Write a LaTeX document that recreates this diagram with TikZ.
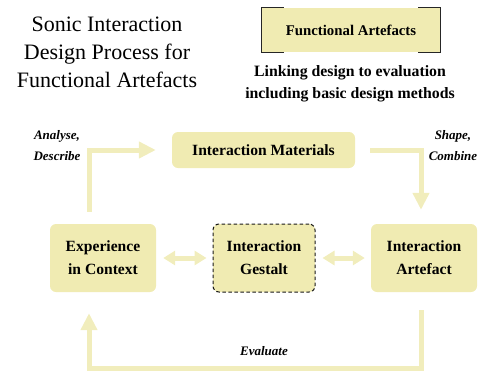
\documentclass[tikz,border=0pt]{standalone}
\usepackage{fontspec}
\setmainfont{Liberation Serif}
\usetikzlibrary{arrows.meta}
\definecolor{boxc}{HTML}{F0EBB2}
\definecolor{arrc}{HTML}{F1EDBC}
\begin{document}
\begin{tikzpicture}[x=1pt,y=-1pt,
 box/.style={fill=boxc, rounded corners=6pt, font=\bfseries\fontsize{15.6}{23}\selectfont, align=center, inner sep=0pt},
 flow/.style={draw=arrc, line width=5pt, -{Triangle[width=16pt,length=17pt]}},
 dbl/.style={draw=arrc, line width=5pt, {Triangle[width=14pt,length=12pt]}-{Triangle[width=14pt,length=12pt]}},
 lab/.style={font=\bfseries\itshape\fontsize{13}{21}\selectfont, align=center},
 frame/.style={draw=black!85, line width=0.8pt}]
\useasboundingbox (0,0) rectangle (478,372);
% title
\node[font=\fontsize{22}{28}\selectfont, align=center] (title) at (107,52) {Sonic Interaction\\Design Process for\\Functional Artefacts};
% legend box
\node[fill=boxc, minimum width=178pt, minimum height=44pt, inner sep=0pt, font=\bfseries\fontsize{14.8}{16}\selectfont] (fa) at (351,30) {Functional Artefacts};
\draw[frame] ([xshift=22pt]fa.north west) -- (fa.north west) -- (fa.south west) -- ([xshift=22pt]fa.south west);
\draw[frame] ([xshift=-22pt]fa.north east) -- (fa.north east) -- (fa.south east) -- ([xshift=-22pt]fa.south east);
\node[font=\bfseries\fontsize{15.8}{22}\selectfont, align=center] (sub) at (350,84) {Linking design to evaluation\\including basic design methods};
% boxes
\node[box, minimum width=183pt, minimum height=36pt] (mat) at (263.5,150) {Interaction Materials};
\node[box, minimum width=106pt, minimum height=68pt] (exp) at (103,258) {Experience\\in Context};
\node[box, minimum width=102pt, minimum height=68pt, draw=black!90, line width=1pt, dash pattern=on 3.5pt off 2.5pt] (gest) at (264,258) {Interaction\\Gestalt};
\node[box, minimum width=106pt, minimum height=68pt] (art) at (424,258) {Interaction\\Artefact};
% arrows
\draw[flow] ([xshift=-14pt,yshift=12pt]exp.north) |- ([xshift=-16pt]mat.west);
\draw[flow] ([xshift=15pt]mat.east) -| ([xshift=-3pt,yshift=14pt]art.north);
\draw[flow] ([xshift=-3pt,yshift=-18pt]art.south) -- ++(0,58) -| ([xshift=-14pt,yshift=-21pt]exp.south);
\draw[dbl] ([xshift=7pt]exp.east) -- ([xshift=-6pt]gest.west);
\draw[dbl] ([xshift=7pt]gest.east) -- ([xshift=-6pt]art.west);
% labels
\node[lab] (l1) at (57,146) {Analyse,\\Describe};
\node[lab] (l2) at (453,146) {Shape,\\Combine};
\node[lab] (l3) at (264,351) {Evaluate};
\end{tikzpicture}
\end{document}
